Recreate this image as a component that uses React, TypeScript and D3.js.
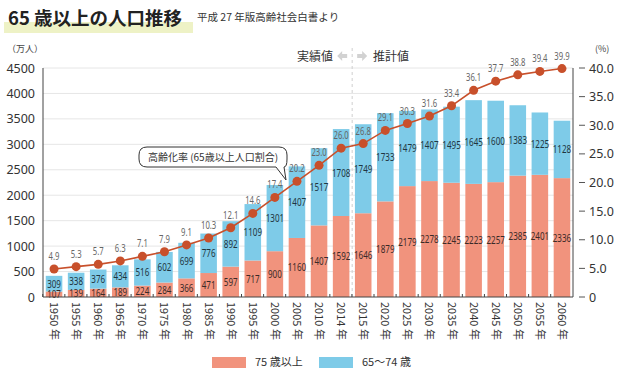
import React from 'react'
import * as d3 from 'd3'

const years = ['1950', '1955', '1960', '1965', '1970', '1975', '1980', '1985', '1990', '1995', '2000', '2005', '2010', '2014', '2015', '2020', '2025', '2030', '2035', '2040', '2045', '2050', '2055', '2060']
const over75 = [107, 139, 164, 189, 224, 284, 366, 471, 597, 717, 900, 1160, 1407, 1592, 1646, 1879, 2179, 2278, 2245, 2223, 2257, 2385, 2401, 2336]
const age65to74 = [309, 338, 376, 434, 516, 602, 699, 776, 892, 1109, 1301, 1407, 1517, 1708, 1749, 1733, 1479, 1407, 1495, 1645, 1600, 1383, 1225, 1128]
const agingRate = [4.9, 5.3, 5.7, 6.3, 7.1, 7.9, 9.1, 10.3, 12.1, 14.6, 17.4, 20.2, 23.0, 26.0, 26.8, 29.1, 30.3, 31.6, 33.4, 36.1, 37.7, 38.8, 39.4, 39.9]
const leftTicks = [0, 500, 1000, 1500, 2000, 2500, 3000, 3500, 4000, 4500]
const rightTicks = [0, 5, 10, 15, 20, 25, 30, 35, 40]

const SALMON = '#f1937d'
const BLUE = '#7ecbe8'
const LINE = '#c8502b'
const JP = '"Noto Sans CJK JP", "Noto Sans", sans-serif'
const NUM = '"Noto Sans", sans-serif'

// condensed numeric label (no narrow font installed, so squeeze horizontally)
function Narrow({ x, y, size, fill, children }: { x: number; y: number; size: number; fill: string; children: React.ReactNode }) {
  return (
    <text transform={`translate(${x},${y}) scale(0.7,1)`} textAnchor="middle" fontFamily={NUM} fontSize={size} fill={fill}>{children}</text>
  )
}

export default function App() {
  const left = 43, right = 573, top = 68, bottom = 297

  const x = d3.scaleBand().domain(years).range([left, right]).paddingInner(0.25).paddingOuter(0.125)
  const y = d3.scaleLinear().domain([0, 4500]).range([bottom, top])
  const yr = d3.scaleLinear().domain([0, 40]).range([bottom, top])
  const cx = (i: number) => (x(years[i]) as number) + x.bandwidth() / 2

  const line = d3.line<number>()
    .x((d, i) => cx(i))
    .y(d => yr(d))

  const divX = ((x('2014') as number) + x.bandwidth() + (x('2015') as number)) / 2

  return (
    <svg width={625} height={386} style={{ position: 'absolute', left: 0, top: 0, background: '#fff' }}>
      {/* title */}
      <rect x={4} y={22} width={189} height={11} fill="#eef2c6" />
      <text x={8} y={25} fontFamily={JP} fontSize={18.5} fontWeight="bold" fill="#222">65 歳以上の人口推移</text>
      <text x={197} y={21} fontFamily={JP} fontSize={10.5} fill="#333">平成 27 年版高齢社会白書より</text>

      {/* units */}
      <text x={7} y={52} fontFamily={JP} fontSize={9} fill="#444">（万人）</text>
      <text x={595} y={52} fontFamily={JP} fontSize={9} fill="#444">(%)</text>

      {/* grid */}
      {leftTicks.filter(t => t > 0).map(t => (
        <line key={t} x1={left} x2={right} y1={y(t)} y2={y(t)} stroke="#e6e6e6" />
      ))}

      {/* left tick labels */}
      {leftTicks.map(t => (
        <text key={t} x={35} y={y(t) + 4.5} textAnchor="end" fontFamily={NUM} fontSize={12.5} fill="#333">{t}</text>
      ))}

      {/* right axis */}
      {rightTicks.map(t => (
        <g key={t}>
          <line x1={579} x2={585} y1={yr(t)} y2={yr(t)} stroke="#555" />
          <text x={589} y={yr(t) + 4.5} fontFamily={NUM} fontSize={12.5} fill="#333">{t === 0 ? '0' : t.toFixed(1)}</text>
        </g>
      ))}

      {/* divider */}
      <line x1={divX} x2={divX} y1={48} y2={bottom} stroke="#cfcfcf" strokeDasharray="3,3" />
      <text x={333} y={61} textAnchor="end" fontFamily={JP} fontSize={12} fill="#333">実績値</text>
      <path d={`M${divX - 15},56 L${divX - 10},51 L${divX - 10},54 L${divX - 5},54 L${divX - 5},58 L${divX - 10},58 L${divX - 10},61 Z`} fill="#d2d2d2" />
      <path d={`M${divX + 15},56 L${divX + 10},51 L${divX + 10},54 L${divX + 5},54 L${divX + 5},58 L${divX + 10},58 L${divX + 10},61 Z`} fill="#d2d2d2" />
      <text x={373} y={61} fontFamily={JP} fontSize={12} fill="#333">推計値</text>

      {/* bars */}
      {years.map((yv, i) => {
        const bx = x(yv) as number
        const w = x.bandwidth()
        const a = over75[i]
        const b = age65to74[i]
        return (
          <g key={yv}>
            <rect x={bx} y={y(a)} width={w} height={y(0) - y(a)} fill={SALMON} />
            <rect x={bx} y={y(a + b)} width={w} height={y(a) - y(a + b)} fill={BLUE} />
            <Narrow x={cx(i)} y={Math.min((y(0) + y(a)) / 2 + 4, 300)} size={11.5} fill="#3a2a28">{a}</Narrow>
            <Narrow x={cx(i)} y={(y(a) + y(a + b)) / 2 + 4} size={11.5} fill="#1f3540">{b}</Narrow>
          </g>
        )
      })}

      {/* axes lines */}
      <line x1={left} x2={left} y1={top} y2={bottom} stroke="#444" />
      <line x1={right} x2={right} y1={top} y2={bottom} stroke="#444" />
      <line x1={left} x2={right} y1={bottom} y2={bottom} stroke="#444" />
      {years.map(yv => (
        <line key={yv} x1={(x(yv) as number) - 3} x2={(x(yv) as number) - 3} y1={bottom} y2={bottom - 3} stroke="#444" />
      ))}

      {/* x labels */}
      {years.map((yv, i) => (
        <text key={yv} transform={`translate(${cx(i) - 4},302) rotate(90)`} fontFamily={JP} fontSize={11} fill="#333">{yv} 年</text>
      ))}

      {/* rate line */}
      <path d={line(agingRate) || ''} fill="none" stroke={LINE} strokeWidth={1.6} />
      {agingRate.map((r, i) => (
        <g key={i}>
          <circle cx={cx(i)} cy={yr(r)} r={4.5} fill={LINE} />
          <Narrow x={cx(i)} y={yr(r) - 9} size={11} fill="#666">{r.toFixed(1)}</Narrow>
        </g>
      ))}

      {/* callout */}
      <path d="M147,147 H279 Q287,147 287,155 V159 Q287,167 284,167 L286,180 L276,167 H147 Q139,167 139,159 V155 Q139,147 147,147 Z" fill="#fff" stroke="#333" strokeWidth={1} />
      <text x={213} y={161} textAnchor="middle" fontFamily={JP} fontSize={10} fill="#333">高齢化率 (65歳以上人口割合)</text>

      {/* legend */}
      <rect x={212} y={357} width={34} height={11} fill={SALMON} />
      <text x={255} y={366} fontFamily={JP} fontSize={11} fill="#333">75 歳以上</text>
      <rect x={319} y={357} width={34} height={11} fill={BLUE} />
      <text x={362} y={366} fontFamily={JP} fontSize={11} fill="#333">65〜74 歳</text>
    </svg>
  )
}
